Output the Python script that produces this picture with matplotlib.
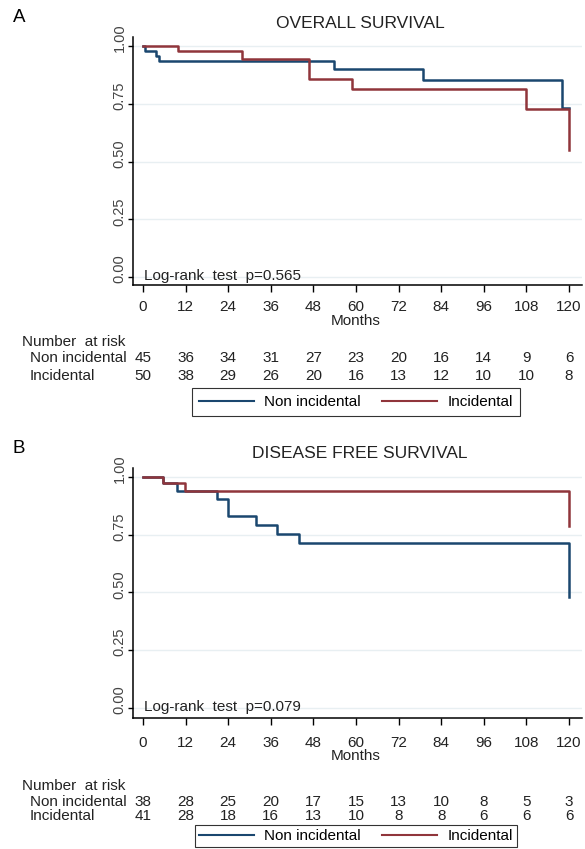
import numpy as np
import matplotlib
matplotlib.use("Agg")
import matplotlib.pyplot as plt
from matplotlib.lines import Line2D
from matplotlib.transforms import ScaledTranslation, blended_transform_factory

plt.rcParams['font.family'] = ['Liberation Sans', 'DejaVu Sans']

W, H = 585, 849
BLUE = "#1a476f"
RED = "#90353b"
GRID = "#e8eff2"

months = [0, 12, 24, 36, 48, 60, 72, 84, 96, 108, 120]
groups = ["Non incidental", "Incidental"]

# Overall survival
os_non_t = [0, 0.6, 3.7, 4.6, 53.8, 78.9, 118, 120]
os_non_s = [1.0, 0.978, 0.956, 0.933, 0.899, 0.853, 0.733, 0.733]
os_inc_t = [0, 9.8, 27.9, 46.8, 59, 108, 120]
os_inc_s = [1.0, 0.978, 0.942, 0.856, 0.812, 0.729, 0.55]
os_risk_non = [45, 36, 34, 31, 27, 23, 20, 16, 14, 9, 6]
os_risk_inc = [50, 38, 29, 26, 20, 16, 13, 12, 10, 10, 8]

# Disease free survival
dfs_non_t = [0, 5.7, 9.7, 20.8, 23.8, 31.9, 37.7, 44, 120]
dfs_non_s = [1.0, 0.972, 0.938, 0.904, 0.831, 0.792, 0.753, 0.713, 0.48]
dfs_inc_t = [0, 5.7, 11.8, 120]
dfs_inc_s = [1.0, 0.972, 0.938, 0.785]
dfs_risk_non = [38, 28, 25, 20, 17, 15, 13, 10, 8, 5, 3]
dfs_risk_inc = [41, 28, 18, 16, 13, 10, 8, 8, 6, 6, 6]

fig = plt.figure(figsize=(W / 100, H / 100), dpi=100)


def fy(y):
    return 1 - y / H


def panel(letter, title, top, bottom, ylim, curves, pval, risk, rows_y, leg_y, xpad, months_y, legpad):
    ax = fig.add_axes([133 / W, fy(bottom), (582 - 133) / W, (bottom - top) / H])
    for t, s, c in curves:
        ax.step(t, s, where="post", color=c, lw=1.8, zorder=3)
    ax.set_xlim(-2.82, 123.66)
    ax.set_ylim(*ylim)
    ax.set_xticks(months)
    ax.set_yticks([0, 0.25, 0.5, 0.75, 1.0])
    ax.set_yticklabels(["0.00", "0.25", "0.50", "0.75", "1.00"])
    for v in [0, 0.25, 0.5, 0.75, 1.0]:
        ax.axhline(v, color=GRID, lw=1.0, zorder=1)
    for sp in ["top", "right"]:
        ax.spines[sp].set_visible(False)
    for sp in ["left", "bottom"]:
        ax.spines[sp].set_linewidth(1.1)
    ax.tick_params(axis="x", length=5, width=1, pad=xpad, labelsize=11, labelcolor="#222222")
    ax.tick_params(axis="y", length=3.5, width=1, pad=1, labelsize=10.5,
                   labelcolor="#444444", labelrotation=90)
    for lab in ax.get_yticklabels():
        lab.set_va("center")
        lab.set_transform(lab.get_transform() + ScaledTranslation(0, 0.08, fig.dpi_scale_trans))
    ax.text(0.3, 0.005, pval, ha="left", va="center", fontsize=11, color="#222222")

    fig.text(356 / W, fy(months_y), "Months", fontsize=11, ha="center", va="center", color="#222222")
    fig.text(13 / W, fy(top - 19), letter, fontsize=13.5, ha="left", va="center")
    fig.text(360 / W, fy(top - 14), title, fontsize=12.5, ha="center", va="center", color="#222222")

    tr = blended_transform_factory(ax.transData, fig.transFigure)
    fig.text(22 / W, fy(rows_y[0]), "Number  at risk", fontsize=11, ha="left", va="center", color="#222222")
    for name, vals, yy in zip(groups, risk, rows_y[1:]):
        fig.text(30 / W, fy(yy), name, fontsize=11, ha="left", va="center", color="#222222")
        for m, v in zip(months, vals):
            ax.text(m, fy(yy), str(v), transform=tr, fontsize=11, ha="center", va="center", color="#222222")

    handles = [Line2D([], [], color=BLUE, lw=1.5), Line2D([], [], color=RED, lw=1.5)]
    leg = fig.legend(handles, groups, loc="center", bbox_to_anchor=(356 / W, fy(leg_y)), ncol=2,
                     frameon=True, fancybox=False, edgecolor="black", fontsize=11,
                     handlelength=3.6, handletextpad=0.7, columnspacing=1.4, borderpad=legpad,
                     borderaxespad=0)
    leg.get_frame().set_linewidth(0.8)
    return ax


panel("A", "OVERALL SURVIVAL", 37, 285, (-0.0346, 1.039),
      [(os_non_t, os_non_s, BLUE), (os_inc_t, os_inc_s, RED)],
      "Log-rank  test  p=0.565", [os_risk_non, os_risk_inc], [342, 358, 376], 402,
      6, 321, 0.45)

panel("B", "DISEASE FREE SURVIVAL", 467.7, 717.7, (-0.042, 1.039),
      [(dfs_non_t, dfs_non_s, BLUE), (dfs_inc_t, dfs_inc_s, RED)],
      "Log-rank  test  p=0.079", [dfs_risk_non, dfs_risk_inc], [786, 802, 816], 836,
      8, 756, 0.25)

fig.savefig("out.png", dpi=100)
